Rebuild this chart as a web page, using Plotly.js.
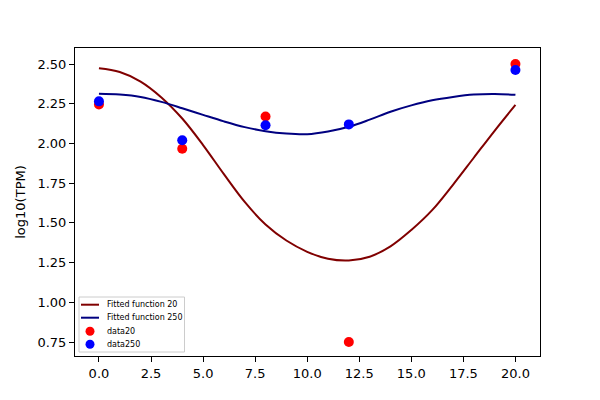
<!DOCTYPE html>
<html>
<head>
<meta charset="utf-8">
<script src="https://cdn.plot.ly/plotly-3.0.1.min.js"></script>
<style>html,body{margin:0;padding:0;background:#fff;}#chart{width:600px;height:400px;}</style>
</head>
<body>
<div id="chart"></div>
<script>
// Measured time points
var timePoints = [0, 4, 8, 12, 20];
var data20 = [2.245, 1.967, 2.17, 0.75, 2.50];
var data250 = [2.265, 2.02, 2.115, 2.12, 2.462];

// Fitted curves
var fitX = [0,1,2,3,4,5,6,7,8,9,10,11,12,13,14,15,16,17,18,19,20];
var fit20 = [2.474,2.45,2.39,2.29,2.157,1.99,1.807,1.632,1.49,1.389,1.318,1.274,1.263,1.287,1.352,1.455,1.58,1.74,1.91,2.08,2.243];
var fit250 = [2.313,2.308,2.293,2.262,2.222,2.18,2.139,2.103,2.077,2.062,2.058,2.075,2.105,2.15,2.2,2.24,2.272,2.293,2.308,2.312,2.306];

var xTicks = [0, 2.5, 5, 7.5, 10, 12.5, 15, 17.5, 20];
var xTickText = ["0.0","2.5","5.0","7.5","10.0","12.5","15.0","17.5","20.0"];
var yTicks = [0.75, 1.0, 1.25, 1.5, 1.75, 2.0, 2.25, 2.5];
var yTickText = ["0.75","1.00","1.25","1.50","1.75","2.00","2.25","2.50"];

var seriesNames = ['Fitted function 20', 'Fitted function 250', 'data20', 'data250'];
var seriesColors = ['#800000', '#000080', '#ff0000', '#0000ff'];

var traces = [
  {x: fitX, y: fit20, type: 'scatter', mode: 'lines', name: seriesNames[0],
   line: {color: seriesColors[0], width: 2, shape: 'spline', smoothing: 1}},
  {x: fitX, y: fit250, type: 'scatter', mode: 'lines', name: seriesNames[1],
   line: {color: seriesColors[1], width: 2, shape: 'spline', smoothing: 1}},
  {x: timePoints, y: data20, type: 'scatter', mode: 'markers', name: seriesNames[2],
   marker: {color: seriesColors[2], size: 10}},
  {x: timePoints, y: data250, type: 'scatter', mode: 'markers', name: seriesNames[3],
   marker: {color: seriesColors[3], size: 10}}
];

// Compact matplotlib-style legend (pixel geometry -> paper coords)
var M = {l: 75, r: 60, t: 48, b: 44};
var W = 600, H = 400;
var pw = W - M.l - M.r, ph = H - M.t - M.b;
function px(x) { return (x - M.l) / pw; }
function py(y) { return (H - M.b - y) / ph; }

var shapes = [
  {type: 'rect', xref: 'paper', yref: 'paper', x0: px(79), x1: px(184.5), y0: py(352), y1: py(297),
   line: {color: '#cccccc', width: 1}, fillcolor: 'rgba(255,255,255,0.8)', layer: 'above'}
];
var annotations = [];
var rowY = [304.7, 317.7, 331.2, 344.3];
for (var i = 0; i < 4; i++) {
  if (i < 2) {
    shapes.push({type: 'line', xref: 'paper', yref: 'paper', x0: px(81), x1: px(99), y0: py(rowY[i]), y1: py(rowY[i]),
      line: {color: seriesColors[i], width: 2}, layer: 'above'});
  } else {
    shapes.push({type: 'circle', xref: 'paper', yref: 'paper', x0: px(85.5), x1: px(94.5), y0: py(rowY[i] + 4.5), y1: py(rowY[i] - 4.5),
      line: {color: seriesColors[i], width: 0}, fillcolor: seriesColors[i], layer: 'above'});
  }
  annotations.push({xref: 'paper', yref: 'paper', x: px(104.5), y: py(rowY[i]), xanchor: 'left', yanchor: 'middle',
    text: seriesNames[i], showarrow: false, font: {family: 'DejaVu Sans', size: 8, color: '#000'}});
}

var axisCommon = {
  showgrid: false, zeroline: false, showline: true, mirror: true,
  linecolor: '#000', linewidth: 1, ticks: 'outside', ticklen: 5, tickwidth: 1,
  tickcolor: '#000', tickfont: {family: 'DejaVu Sans', size: 13, color: '#000'}
};

var layout = {
  width: W, height: H,
  margin: {l: M.l, r: M.r, t: M.t, b: M.b, pad: 0},
  paper_bgcolor: '#fff', plot_bgcolor: '#fff',
  font: {family: 'DejaVu Sans', color: '#000'},
  showlegend: false,
  shapes: shapes,
  annotations: annotations,
  xaxis: Object.assign({}, axisCommon, {
    range: [-1.15, 21.18], tickvals: xTicks, ticktext: xTickText
  }),
  yaxis: Object.assign({}, axisCommon, {
    range: [0.662, 2.601], tickvals: yTicks, ticktext: yTickText,
    title: {text: 'log10(TPM)', font: {family: 'DejaVu Sans', size: 13, color: '#000'}, standoff: 8}
  })
};

Plotly.newPlot('chart', traces, layout, {displayModeBar: false, staticPlot: true});
</script>
</body>
</html>
